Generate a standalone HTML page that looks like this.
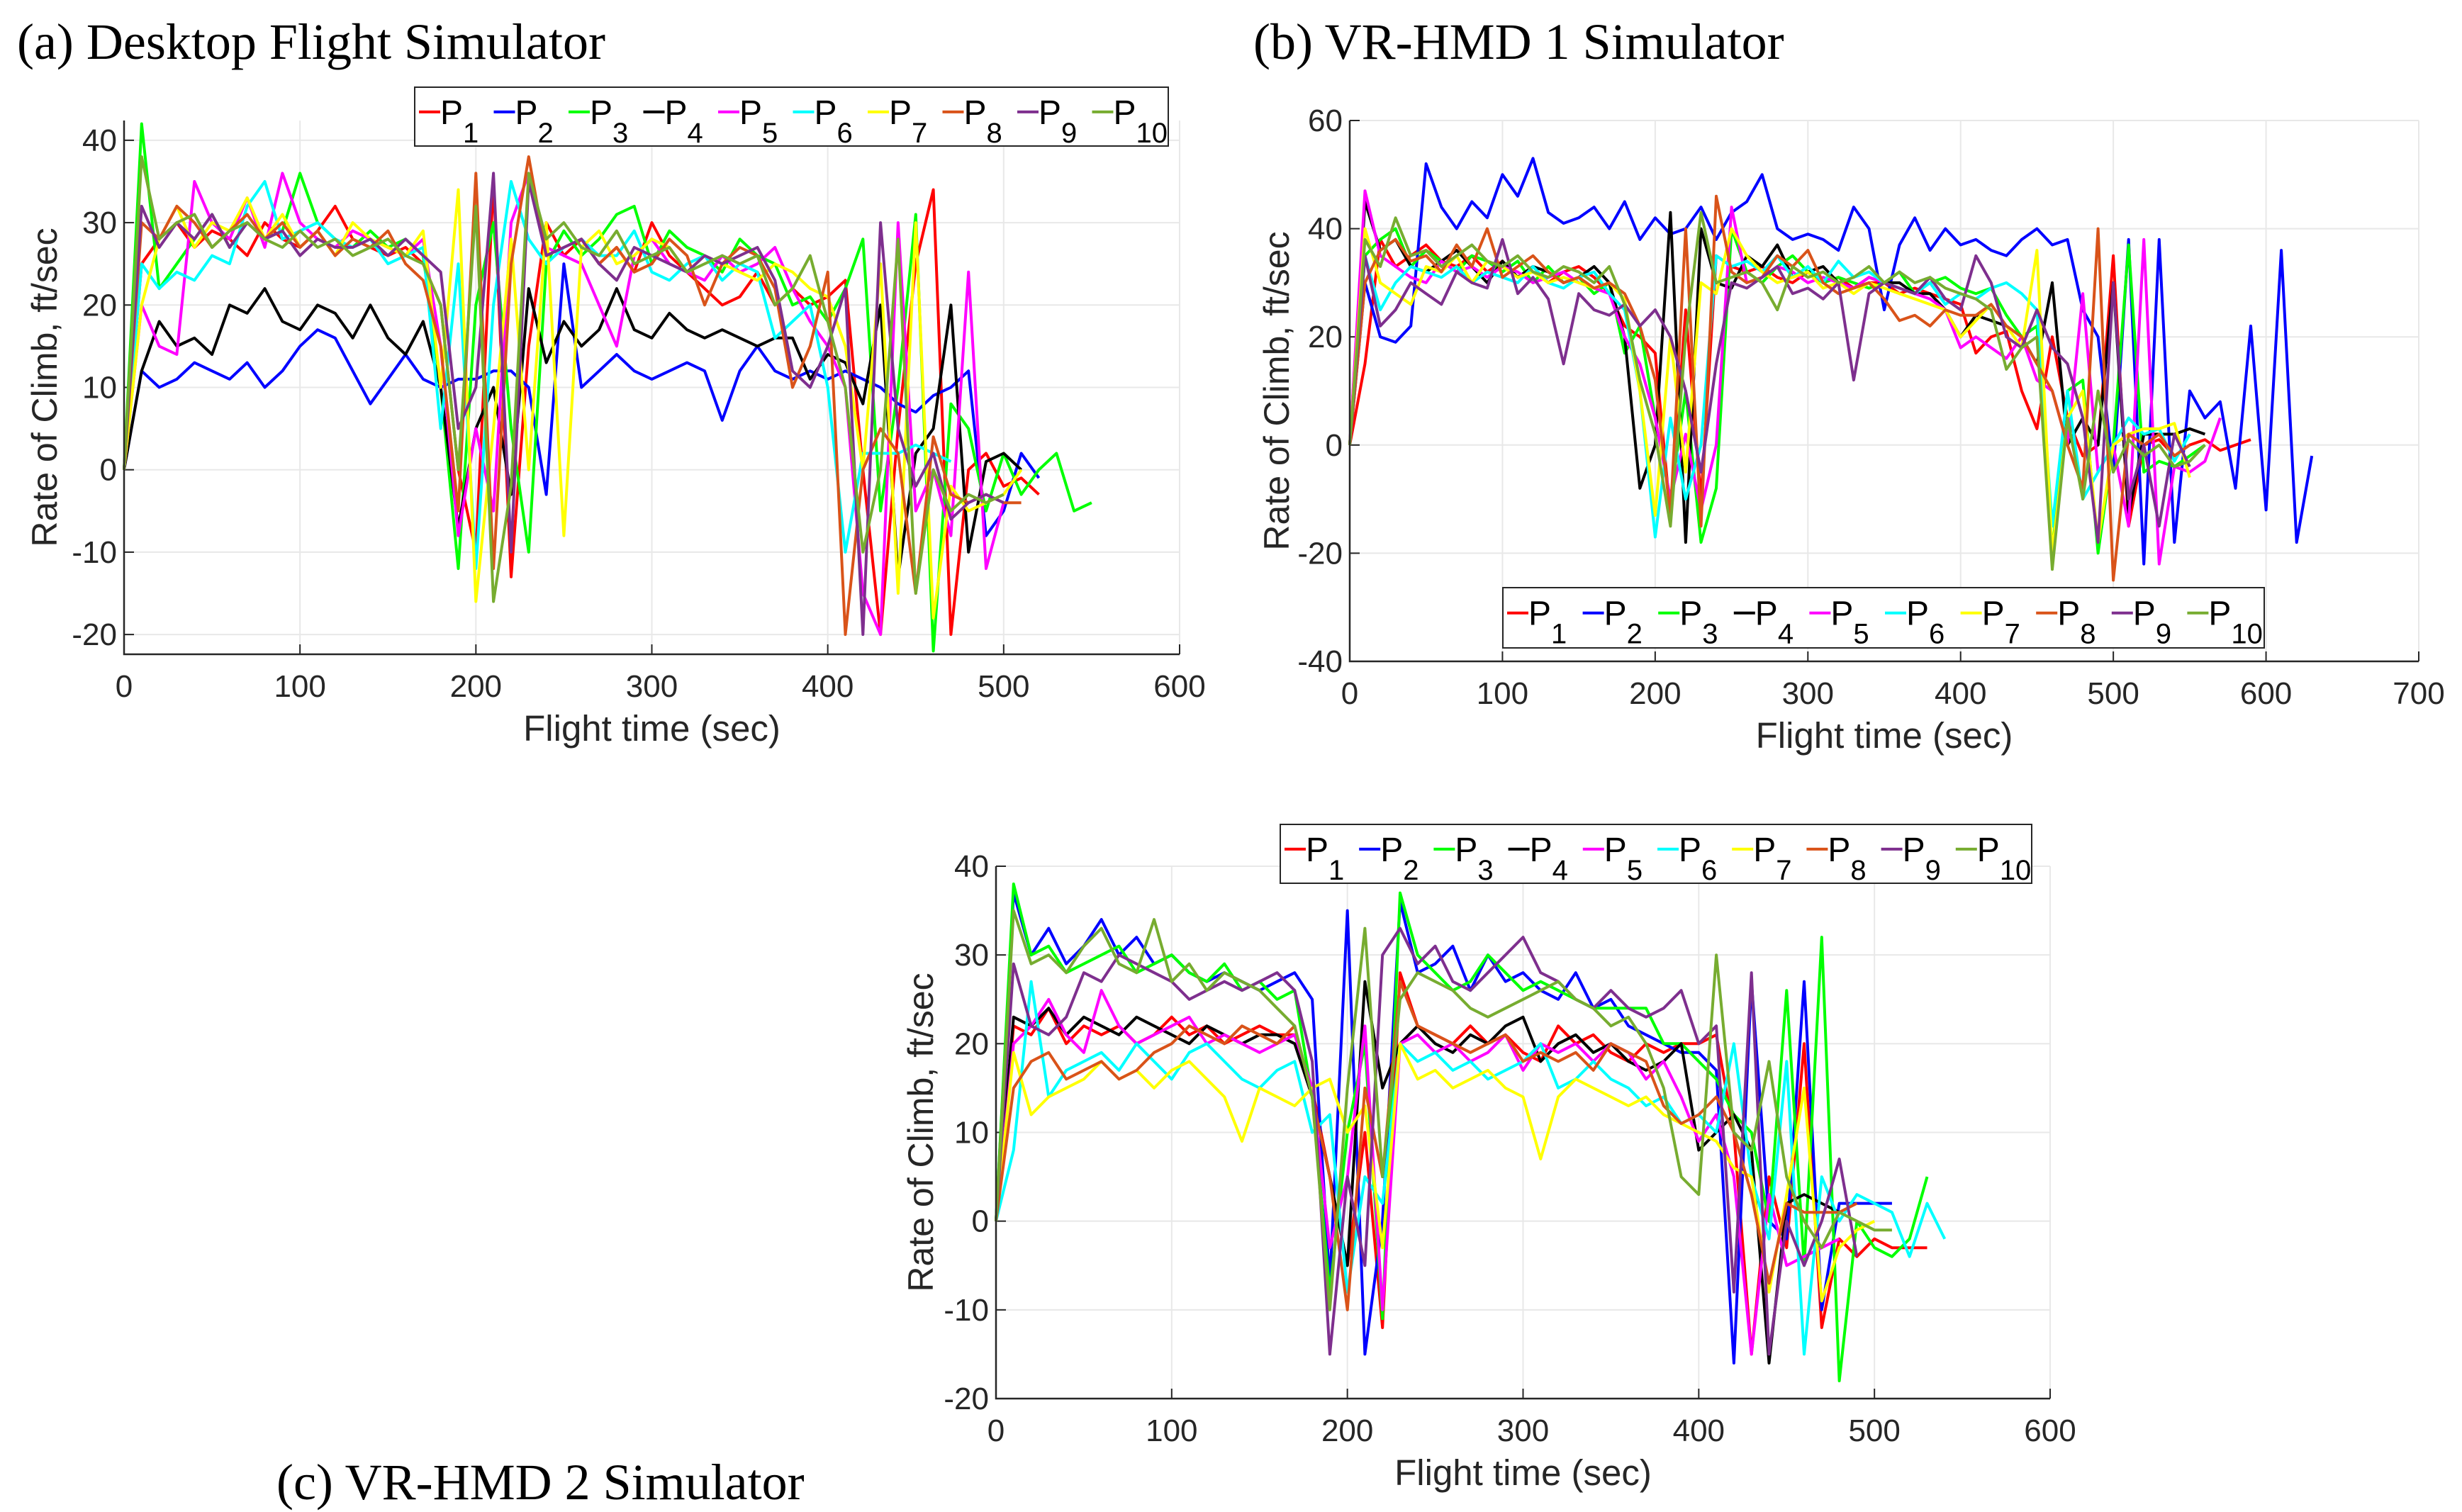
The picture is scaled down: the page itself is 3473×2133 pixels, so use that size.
<!DOCTYPE html>
<html><head><meta charset="utf-8"><style>
html,body{margin:0;padding:0;background:#fff;}
body{width:3473px;height:2133px;position:relative;overflow:hidden;font-family:"Liberation Sans",sans-serif;}
.title{position:absolute;font-family:"Liberation Serif",serif;font-size:72px;color:#000;white-space:nowrap;}
svg{position:absolute;left:0;top:0;}
</style></head><body>
<div class="title" style="left:24px;top:18px;">(a) Desktop Flight Simulator</div>
<div class="title" style="left:1768px;top:18px;">(b) VR-HMD 1 Simulator</div>
<div class="title" style="left:390px;top:2050px;">(c) VR-HMD 2 Simulator</div>
<svg id="chart" width="3473" height="2133" xmlns="http://www.w3.org/2000/svg"></svg>
<script>
const seriesNames=["P1","P2","P3","P4","P5","P6","P7","P8","P9","P10"];
const seriesColors=["#ff0000","#0000ff","#00ff00","#000000","#ff00ff","#00ffff","#ffff00","#d95319","#7e2f8e","#77ac30"];
const timeStep=10;
// Panel (a) Desktop
const a_P1=[0,25,28,30,27,29,28,26,30,28,27,29,32,28,27,26,27,25,20,0,-10,35,-13,15,30,26,28,25,27,24,30,26,24,22,20,21,24,20,22,20,21,23,0,-20,5,25,34,-20,0,2,-2,-1,-3];
const a_P2=[0,12,10,11,13,12,11,13,10,12,15,17,16,12,8,11,14,11,10,11,11,12,12,10,-3,25,10,12,14,12,11,12,13,12,6,12,15,12,11,12,11,12,11,10,8,7,9,10,12,-8,-5,2,-1];
const a_P3=[0,42,22,25,28,31,27,30,28,29,36,30,28,27,29,27,28,26,10,-12,20,30,5,-10,25,29,26,28,31,32,25,29,27,26,24,28,26,25,20,21,18,22,28,-5,10,31,-22,8,5,-5,2,-3,0,2,-5,-4];
const a_P4=[0,12,18,15,16,14,20,19,22,18,17,20,19,16,20,16,14,18,10,-7,5,10,-3,22,13,18,15,17,22,17,16,19,17,16,17,16,15,16,16,11,14,13,8,20,-13,2,5,20,-10,1,2,0];
const a_P5=[0,20,15,14,35,30,28,33,27,36,30,28,27,29,28,27,26,28,15,-8,5,-5,30,36,27,26,25,20,15,26,28,25,24,23,26,24,25,27,22,18,15,10,-15,-20,30,-5,0,-8,24,-12,-4];
const a_P6=[0,25,22,24,23,26,25,32,35,28,29,30,28,27,28,25,26,27,5,25,-12,20,35,28,25,27,28,26,26,29,24,23,25,26,23,25,24,16,18,20,10,-10,2,2,2,3,2,1];
const a_P7=[0,20,28,32,27,30,29,33,28,31,27,29,26,30,28,27,26,29,10,34,-16,5,28,0,30,-8,27,29,25,26,28,27,24,26,25,24,23,25,24,22,21,15,0,25,-15,30,-18,-2,-5,-4,-3,0];
const a_P8=[0,30,28,32,30,27,29,31,28,30,27,29,26,28,27,29,25,23,15,-5,36,-12,25,38,26,27,28,25,27,24,25,28,26,20,25,27,26,22,10,15,24,-20,0,5,2,-15,4,-3,-4,-3,-4,-4];
const a_P9=[0,32,27,30,28,31,27,30,28,29,26,28,27,27,28,26,28,26,24,5,10,36,-10,35,26,27,28,25,23,27,26,25,24,26,25,26,27,23,12,10,15,22,-20,30,5,-2,2,-6,-4,-3,-4];
const a_P10=[0,38,28,30,31,27,29,30,28,27,29,27,28,26,27,28,26,25,20,0,32,-16,-2,36,28,30,27,26,29,25,26,27,24,25,26,25,26,20,22,26,18,10,-10,0,28,-15,0,-5,-3,-4,-3];
// Panel (b) VR-HMD 1
const b_P1=[0,15,38,33,35,37,34,33,35,32,34,31,33,30,32,33,31,28,22,20,17,-13,25,-10,35,33,32,33,31,30,32,30,31,29,30,30,28,29,28,27,26,17,20,21,10,3,20,5,-2,0,35,-15,0,1,-2,0,1,-1,0,1];
const b_P2=[0,30,20,19,22,52,44,40,45,42,50,46,53,43,41,42,44,40,45,38,42,39,40,44,38,43,45,50,40,38,39,38,36,44,40,25,37,42,36,40,37,38,36,35,38,40,37,38,25,20,-5,38,-22,38,-18,10,5,8,-8,22,-12,36,-18,-2];
const b_P3=[0,35,38,40,33,36,34,32,35,34,32,34,30,33,30,31,28,30,17,22,5,-10,10,-18,-8,40,32,30,33,35,32,30,31,30,29,30,32,28,30,31,29,28,29,24,20,22,-20,10,12,-20,0,37,-5,-3,-4,-2,0];
const b_P4=[0,45,36,38,33,32,34,36,33,30,34,31,33,32,30,31,33,30,20,-8,0,43,-18,40,30,29,35,33,37,31,32,33,30,29,31,30,30,28,28,25,20,24,23,22,20,15,30,0,5,0,30,-13,2,2,2,3,2];
const b_P5=[0,47,35,33,31,30,34,32,33,31,33,32,30,31,32,30,29,28,20,15,5,-10,2,-12,0,44,30,31,33,32,30,31,30,29,31,30,29,28,27,25,18,20,18,16,20,12,10,0,28,-5,0,-15,38,-22,-4,-5,-3,5];
const b_P6=[0,35,25,30,33,32,31,33,30,32,31,30,33,30,29,31,32,28,25,10,-17,5,-10,0,35,33,34,32,35,31,33,30,34,31,32,30,29,28,30,26,28,27,29,30,28,25,-15,10,-10,-5,0,5,2,3,-3,2];
const b_P7=[0,40,30,28,26,33,32,35,30,34,33,31,32,30,31,30,29,30,27,10,-13,20,-5,30,28,40,35,32,30,31,32,29,30,28,30,29,28,27,26,25,20,23,26,22,18,36,-20,5,10,-18,0,2,3,3,4,-6];
const b_P8=[0,30,36,38,34,35,32,37,33,40,31,33,35,32,30,31,29,30,28,22,12,-13,40,-15,46,32,30,31,35,33,36,30,28,29,30,27,23,24,22,25,24,24,26,22,20,15,10,0,-8,40,-25,2,0,2,-2,0];
const b_P9=[0,35,22,25,30,28,26,32,30,29,38,28,31,27,15,28,25,24,26,22,25,20,10,-5,15,30,29,31,33,28,29,27,30,12,28,30,29,28,31,27,25,35,30,20,18,25,18,15,5,-18,30,-10,0,-15,2,-4];
const b_P10=[0,38,33,42,35,36,33,35,37,34,33,35,32,31,33,32,30,33,26,12,2,-15,20,43,30,31,32,30,25,33,31,32,30,31,33,30,32,30,31,29,28,27,25,14,18,20,-23,5,-10,10,-5,1,-2,0,-4,-3,0];
// Panel (c) VR-HMD 2
const c_P1=[0,22,21,24,20,22,21,22,20,21,23,21,22,20,21,22,21,21,15,5,-5,10,-12,28,22,21,20,22,20,21,19,18,22,20,21,19,18,20,19,20,20,21,10,-15,5,-3,20,-12,-2,-4,-2,-3,-3,-3];
const c_P2=[0,37,30,33,29,31,34,30,32,29,30,28,27,28,27,26,27,28,25,-7,35,-15,0,36,28,29,31,26,30,27,28,26,25,28,24,25,22,21,20,19,19,17,-16,27,0,-2,27,-10,2,2,2,2];
const c_P3=[0,38,30,31,28,29,30,31,28,29,30,28,27,29,26,27,25,26,14,-8,10,20,-11,37,30,28,26,27,30,28,26,27,26,25,24,24,24,24,20,20,18,16,12,10,0,26,-5,32,-18,0,-3,-4,-2,5];
const c_P4=[0,23,22,24,21,23,22,21,23,22,21,20,22,21,20,21,21,20,14,5,-5,27,15,20,22,20,19,21,20,22,23,18,20,21,19,20,18,17,18,20,8,10,12,8,-16,2,3,2,1];
const c_P5=[0,20,22,25,21,19,26,22,20,21,22,23,20,21,20,19,20,21,15,-3,5,22,-10,20,21,19,20,18,19,21,17,20,19,20,18,20,19,16,18,14,9,12,5,-15,3,-5,-4,-3,-2];
const c_P6=[0,8,27,14,17,18,19,17,20,18,16,19,20,18,16,15,17,18,10,12,-8,5,2,20,18,19,17,18,16,17,18,20,15,16,18,16,15,13,14,11,12,10,20,5,-2,18,-15,5,0,3,2,1,-4,2,-2];
const c_P7=[0,19,12,14,15,16,18,16,17,15,17,18,16,14,9,15,14,13,15,16,10,13,-3,20,16,17,15,16,17,15,14,7,14,16,15,14,13,14,12,11,10,9,6,5,-8,3,15,-9,-3,-1,0];
const c_P8=[0,15,18,19,16,17,18,16,17,19,20,22,21,20,22,21,20,22,14,5,-10,15,5,27,22,21,20,19,20,21,18,19,18,19,17,20,19,18,13,11,12,14,10,3,-7,2,1,1,1,2];
const c_P9=[0,29,22,21,23,28,27,30,29,28,27,25,26,27,26,27,28,26,18,-15,5,-5,30,33,29,31,27,26,28,30,32,28,27,25,24,26,24,23,24,26,20,22,-8,28,-15,0,-5,0,7,-4];
const c_P10=[0,35,29,30,28,31,33,29,28,34,27,29,26,28,27,26,24,22,14,-10,15,33,5,25,28,27,26,24,23,24,25,26,27,25,24,22,23,20,15,5,3,30,10,8,18,5,0,-3,1,0,-1,-1];
const a_xTicks=[0,100,200,300,400,500,600];
const a_yTicks=[-20,-10,0,10,20,30,40];
const b_xTicks=[0,100,200,300,400,500,600,700];
const b_yTicks=[-40,-20,0,20,40,60];
const c_xTicks=[0,100,200,300,400,500,600];
const c_yTicks=[-20,-10,0,10,20,30,40];

const NS="http://www.w3.org/2000/svg";
const svg=document.getElementById('chart');
function mk(tag,attrs,parent){const e=document.createElementNS(NS,tag);for(const k in attrs)e.setAttribute(k,attrs[k]);(parent||svg).appendChild(e);return e;}

function drawPanel(id,L,R,T,B,xmin,xmax,ymin,ymax,xTicks,yTicks,series,legend,ylabX){
  const g=mk('g',{});
  
  
  const sx=v=>L+(v-xmin)/(xmax-xmin)*(R-L);
  const sy=v=>B-(v-ymin)/(ymax-ymin)*(B-T);
  xTicks.forEach(t=>{
    const gl=mk('line',{x1:sx(t),x2:sx(t),y1:T,y2:B,stroke:'#e8e8e8','stroke-width':2},g);
    
    
    mk('line',{x1:sx(t),x2:sx(t),y1:B,y2:B-14,stroke:'#262626','stroke-width':2},g);
    const tx=mk('text',{x:sx(t),y:B+60,'text-anchor':'middle','font-size':44,fill:'#262626'},g);
    tx.textContent=t;
    
    
  });
  yTicks.forEach(t=>{
    const gl=mk('line',{x1:L,x2:R,y1:sy(t),y2:sy(t),stroke:'#e8e8e8','stroke-width':2},g);
    
    
    mk('line',{x1:L,x2:L+14,y1:sy(t),y2:sy(t),stroke:'#262626','stroke-width':2},g);
    const tx=mk('text',{x:L-10,y:sy(t)+15,'text-anchor':'end','font-size':44,fill:'#262626'},g);
    tx.textContent=t;
    
    
  });
  series.forEach((s,i)=>{
    const pts=s.map((v,j)=>sx(j*timeStep).toFixed(1)+','+sy(v).toFixed(1)).join(' ');
    const pl=mk('polyline',{points:pts,fill:'none',stroke:seriesColors[i],'stroke-width':4,'stroke-linejoin':'round'},g);
    
    
  });
  const ax=mk('path',{d:`M${L},${T} L${L},${B} L${R},${B}`,fill:'none',stroke:'#262626','stroke-width':2.5},g);
  
  
  const xl=mk('text',{x:(L+R)/2,y:B+122,'text-anchor':'middle','font-size':51,fill:'#262626'},g);
  xl.textContent='Flight time (sec)';
  
  
  const ycy=(T+B)/2;
  const yl=mk('text',{x:ylabX,y:ycy,'text-anchor':'middle','font-size':50,fill:'#262626',transform:`rotate(-90 ${ylabX} ${ycy})`},g);
  yl.textContent='Rate of Climb, ft/sec';
  
  
  const [lx1,ly1,lx2,ly2]=legend;
  const lg=mk('g',{},g);
  
  
  mk('rect',{x:lx1,y:ly1,width:lx2-lx1,height:ly2-ly1,fill:'#fff',stroke:'#262626','stroke-width':2},lg);
  const w=(lx2-lx1-8)/10;
  seriesNames.forEach((n,i)=>{
    const ex=lx1+6+i*w, ey=ly1+(ly2-ly1)*0.42;
    const ent=mk('g',{},lg);
    
    
    mk('line',{x1:ex,x2:ex+30,y1:ey,y2:ey,stroke:seriesColors[i],'stroke-width':4},ent);
    const t=mk('text',{x:ex+30,y:ey+17,'font-size':48,fill:'#000'},ent);
    t.textContent='P';
    const sub=mk('tspan',{dy:26,'font-size':40},t);
    sub.textContent=n.slice(1);
  });
}
drawPanel('panel-a',175,1664,170,923,0,600,-22.4,42.4,a_xTicks,a_yTicks,
  [a_P1,a_P2,a_P3,a_P4,a_P5,a_P6,a_P7,a_P8,a_P9,a_P10],[585,123,1648,206],80);
drawPanel('panel-b',1904,3412,170,933,0,700,-40,60,b_xTicks,b_yTicks,
  [b_P1,b_P2,b_P3,b_P4,b_P5,b_P6,b_P7,b_P8,b_P9,b_P10],[2120,829,3194,914],1818);
drawPanel('panel-c',1405,2892,1222,1973,0,600,-20,40,c_xTicks,c_yTicks,
  [c_P1,c_P2,c_P3,c_P4,c_P5,c_P6,c_P7,c_P8,c_P9,c_P10],[1806,1163,2866,1246],1316);
</script>
</body></html>
